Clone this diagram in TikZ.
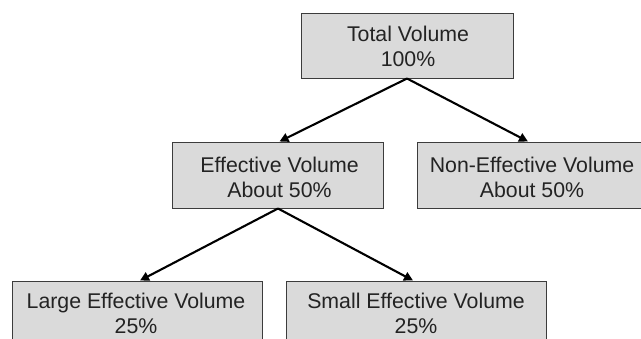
\documentclass[tikz,border=0pt]{standalone}
\usepackage{fontspec}
\setmainfont{Liberation Sans}
\usetikzlibrary{arrows.meta}
\definecolor{boxfill}{RGB}{218,218,218}
\definecolor{boxline}{RGB}{60,60,60}
\definecolor{txt}{RGB}{35,35,35}
\begin{document}
\begin{tikzpicture}[x=1pt,y=-1pt,
  box/.style={draw=boxline,fill=boxfill,line width=1pt,inner sep=0pt,minimum height=#1},
  box/.default=65pt,
  lbl/.style={anchor=base,inner sep=0pt,text=txt,font=\fontsize{21.3pt}{25pt}\selectfont},
  arr/.style={draw=black,line width=2.1pt,-{Triangle[length=9pt,width=9pt]}}]
\useasboundingbox (0,0) rectangle (641,338);
% boxes
\node[box,minimum width=212pt] (top) at (407,45.5) {};
\node[box=66pt,minimum width=211pt] (eff) at (277.5,175) {};
\node[box=66pt,minimum width=230pt] (non) at (532,175) {};
\node[box=90pt,minimum width=250pt] (large) at (137,326) {};
\node[box=90pt,minimum width=260pt] (small) at (416,326) {};
% texts
\node[lbl] (t1) at (408,41) {Total Volume};
\node[lbl] (t2) at (408,66) {100\%};
\node[lbl] (e1) at (279.5,172) {Effective Volume};
\node[lbl] (e2) at (279.5,197) {About 50\%};
\node[lbl] (n1) at (532,172) {Non-Effective Volume};
\node[lbl] (n2) at (532,197) {About 50\%};
\node[lbl] (l1) at (136,308) {Large Effective Volume};
\node[lbl] (l2) at (136,333) {25\%};
\node[lbl] (s1) at (416,308) {Small Effective Volume};
\node[lbl] (s2) at (416,333) {25\%};
% connectors
\draw[arr] (top.south) -- ([xshift=2pt]eff.north);
\draw[arr] (top.south) -- ([xshift=-4pt]non.north);
\draw[arr] ([xshift=0.5pt]eff.south) -- ([xshift=3pt]large.north);
\draw[arr] ([xshift=0.5pt]eff.south) -- ([xshift=-3pt]small.north);
\end{tikzpicture}
\end{document}
